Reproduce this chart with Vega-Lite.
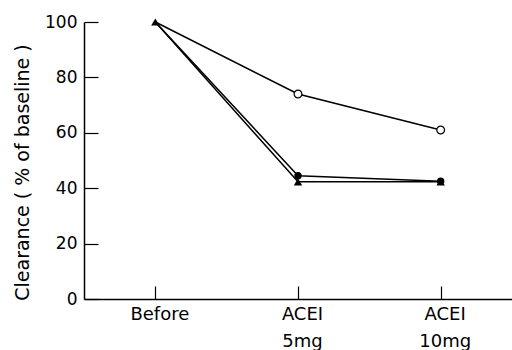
{
  "$schema": "https://vega.github.io/schema/vega-lite/v6.json",
  "width": 428,
  "height": 277,
  "autosize": {"type": "none"},
  "padding": {"left": 84, "top": 22, "right": 0, "bottom": 51},
  "background": "white",
  "config": {
    "view": {"stroke": null},
    "axis": {"domainColor": "black", "tickColor": "black", "labelColor": "black", "titleColor": "black", "labelFont": "DejaVu Sans", "titleFont": "DejaVu Sans", "labelFontSize": 17, "titleFontSize": 19, "titleFontWeight": "normal", "grid": false, "domainWidth": 1.5, "tickWidth": 1.2}
  },
  "data": {
    "values": [
      {"t": 0, "v": 100, "g": "open"},
      {"t": 1, "v": 74, "g": "open"},
      {"t": 2, "v": 61, "g": "open"},
      {"t": 0, "v": 100, "g": "filled"},
      {"t": 1, "v": 44.5, "g": "filled"},
      {"t": 2, "v": 42.5, "g": "filled"},
      {"t": 0, "v": 100, "g": "tri"},
      {"t": 1, "v": 42.3, "g": "tri"},
      {"t": 2, "v": 42.3, "g": "tri"}
    ]
  },
  "encoding": {
    "x": {"field": "t", "type": "quantitative", "scale": {"domain": [-0.5, 2.5], "nice": false, "zero": false},
      "axis": {"values": [0, 1, 2], "title": null, "ticks": true, "tickSize": 1, "labelPadding": 5, "labelOffset": 4, "labelFontSize": 18, "labelLineHeight": 27, "labelBaseline": "top",
        "labelExpr": "datum.value == 0 ? 'Before' : datum.value == 1 ? ['ACEI', '5mg'] : ['ACEI', '10mg']",
        "encoding": {"ticks": {"y2": {"value": -13}}}}},
    "y": {"field": "v", "type": "quantitative", "scale": {"domain": [0, 100], "nice": false},
      "axis": {"values": [0, 20, 40, 60, 80, 100], "title": "Clearance ( % of baseline )", "titleY": 150, "ticks": true, "tickSize": 1, "labelPadding": 6, "titlePadding": 12,
        "encoding": {"ticks": {"x2": {"value": 14}}}}}
  },
  "layer": [
    {"mark": {"type": "line", "color": "black", "strokeWidth": 1.5}, "encoding": {"detail": {"field": "g"}}},
    {"transform": [{"filter": "datum.g == 'open' && datum.t > 0"}], "mark": {"type": "point", "shape": "circle", "filled": true, "fill": "white", "stroke": "black", "strokeWidth": 1.2, "size": 60, "opacity": 1}},
    {"transform": [{"filter": "datum.g == 'filled' && datum.t > 0"}], "mark": {"type": "point", "shape": "circle", "filled": true, "color": "black", "size": 55, "opacity": 1}},
    {"transform": [{"filter": "datum.g == 'tri'"}], "mark": {"type": "point", "shape": "triangle-up", "filled": true, "color": "black", "size": 70, "opacity": 1}}
  ]
}
